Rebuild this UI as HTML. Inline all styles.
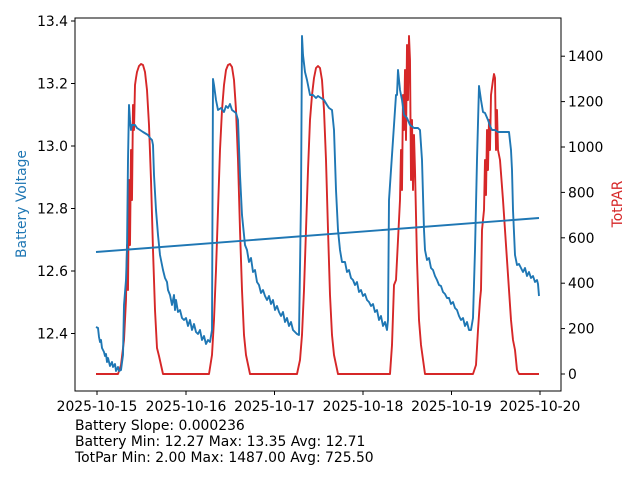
<!DOCTYPE html>
<html><head><meta charset="utf-8"><style>
html,body{margin:0;padding:0;background:#fff;}
svg{display:block;font-family:"DejaVu Sans","Liberation Sans",sans-serif;}
</style></head><body>
<svg width="640" height="480" viewBox="0 0 640 480" xmlns="http://www.w3.org/2000/svg">
<rect width="640" height="480" fill="#fff"/>
<!-- red TotPAR -->
<polyline fill="none" stroke="#d62728" stroke-width="1.9" stroke-linejoin="round" points="
96,374 118,374 121,365 124,340 126,300 127,245 128,290 129,180 130,245 131,150 132,200 133,105 134,130 135,85 136,78 137,72 139,66 141,64 143,65 145,72 147,90 149,125 151,180 153,250 155,310 157,348 159,356 163,374
209,374 212,355 214,320 216,270 218,210 220,150 222,110 224,85 226,70 228,65 230,64 232,67 234,80 236,110 238,160 240,230 242,290 244,335 246,355 250,374
297,374 300,360 302,335 304,290 306,230 308,170 310,120 312,95 314,78 316,68 318,66 320,68 322,80 324,110 326,160 328,230 330,295 332,335 334,355 338,374
385,374 390,374 392,345 394,285 396,280 398,240 400,200 401,150 402,190 403,95 404,130 405,70 406,140 407,45 408,100 409,36 410,60 411,180 412,120 413,190 414,135 415,170 417,260 419,320 421,345 425,374
473,374 476,365 478,330 480,300 481,290 482,230 484,210 485,160 486,195 487,130 488,170 489,120 490,150 491,95 493,80 494,74 495,78 496,150 497,110 498,150 500,160 503,200 507,260 511,320 513,340 515,350 517,370 519,374 539,374"/>
<!-- blue battery -->
<polyline fill="none" stroke="#1f77b4" stroke-width="1.9" stroke-linejoin="round" points="
96,327 98,328 99,337 100,342 101,340 102,348 104,352 105,356 106,354 107,362 108,358 110,366 112,362 113,367 115,364 116,371 118,367 119,371 121,370 123,355 124,305 126,280 127,250 128,160 129,105 130,120 131,130 132,125 135,125 137,128 140,130 143,132 148,135 150,138 152,140 153,145 154,175 156,210 158,235 160,255 162,265 163,270 165,278 167,282 168,290 170,295 172,305 174,295 175,310 176,300 178,312 180,310 182,318 184,320 186,318 188,326 190,320 192,330 194,324 196,332 198,334 200,330 202,340 204,336 206,344 208,340 210,342 212,330 213,79 214,85 216,100 218,110 221,108 224,112 226,106 228,108 230,104 232,110 236,113 238,120 240,175 242,215 245,245 247,250 249,262 251,258 253,272 255,270 257,282 259,285 261,293 263,290 265,296 267,300 269,296 271,304 273,300 275,310 277,306 279,312 281,316 283,312 285,322 287,318 289,326 291,322 293,330 295,332 297,334 299,335 301,200 302,36 303,55 305,72 307,80 310,95 313,95 316,98 318,96 321,98 324,100 327,105 329,108 332,110 334,130 336,190 338,230 340,250 342,262 345,262 347,272 349,270 351,278 353,280 355,285 357,282 359,292 361,290 363,296 365,294 367,300 369,302 371,306 373,304 375,312 377,310 379,320 381,316 383,326 385,322 387,330 388,320 389,200 390,185 393,140 396,95 397,95 398,70 400,90 402,100 404,115 407,118 410,125 414,128 418,128 420,130 422,160 424,230 425,250 427,260 429,258 431,268 433,270 435,276 437,280 439,285 441,286 443,292 445,294 447,298 449,298 451,304 453,302 455,308 457,310 459,316 461,320 463,318 465,326 467,322 469,330 471,330 473,318 475,250 477,160 479,86 481,100 483,112 485,113 488,120 490,126 492,130 495,130 498,132 505,132 509,132 511,150 512,170 513,210 515,255 517,265 519,264 521,268 523,272 525,268 527,276 529,272 531,278 533,276 535,282 537,280 538,284 539,296"/>
<!-- trend -->
<line x1="96" y1="252" x2="539" y2="218" stroke="#1f77b4" stroke-width="1.9"/>
<!-- axes frame -->
<rect x="75" y="18" width="486" height="373" fill="none" stroke="#000" stroke-width="1"/>
<g stroke="#000" stroke-width="1">
<line x1="71" y1="21" x2="75" y2="21"/><line x1="71" y1="83.5" x2="75" y2="83.5"/><line x1="71" y1="146" x2="75" y2="146"/><line x1="71" y1="208.5" x2="75" y2="208.5"/><line x1="71" y1="271" x2="75" y2="271"/><line x1="71" y1="333.5" x2="75" y2="333.5"/>
<line x1="561" y1="374" x2="565" y2="374"/><line x1="561" y1="328.6" x2="565" y2="328.6"/><line x1="561" y1="283.2" x2="565" y2="283.2"/><line x1="561" y1="237.8" x2="565" y2="237.8"/><line x1="561" y1="192.4" x2="565" y2="192.4"/><line x1="561" y1="147" x2="565" y2="147"/><line x1="561" y1="101.6" x2="565" y2="101.6"/><line x1="561" y1="56.2" x2="565" y2="56.2"/>
<line x1="97" y1="391" x2="97" y2="395"/><line x1="186" y1="391" x2="186" y2="395"/><line x1="274.5" y1="391" x2="274.5" y2="395"/><line x1="363" y1="391" x2="363" y2="395"/><line x1="451.5" y1="391" x2="451.5" y2="395"/><line x1="540" y1="391" x2="540" y2="395"/>
</g>
<g font-size="13.9" fill="#000" text-anchor="end">
<text x="68" y="26">13.4</text><text x="68" y="88.5">13.2</text><text x="68" y="151">13.0</text><text x="68" y="213.5">12.8</text><text x="68" y="276">12.6</text><text x="68" y="338.5">12.4</text>
</g>
<g font-size="13.9" fill="#000" text-anchor="start">
<text x="568" y="379">0</text><text x="568" y="333.6">200</text><text x="568" y="288.2">400</text><text x="568" y="242.8">600</text><text x="568" y="197.4">800</text><text x="568" y="152">1000</text><text x="568" y="106.6">1200</text><text x="568" y="61.2">1400</text>
</g>
<g font-size="13.9" fill="#000" text-anchor="middle">
<text x="97" y="411">2025-10-15</text><text x="186" y="411">2025-10-16</text><text x="274.5" y="411">2025-10-17</text><text x="363" y="411">2025-10-18</text><text x="451.5" y="411">2025-10-19</text><text x="540" y="411">2025-10-20</text>
</g>
<text x="26" y="204" font-size="13.9" fill="#1f77b4" text-anchor="middle" transform="rotate(-90 26 204)">Battery Voltage</text>
<text x="622" y="204" font-size="13.9" fill="#d62728" text-anchor="middle" transform="rotate(-90 622 204)">TotPAR</text>
<g font-size="13.9" fill="#000">
<text x="75" y="430">Battery Slope: 0.000236</text>
<text x="75" y="446">Battery Min: 12.27 Max: 13.35 Avg: 12.71</text>
<text x="75" y="462">TotPar Min: 2.00 Max: 1487.00 Avg: 725.50</text>
</g>
</svg>
</body></html>
